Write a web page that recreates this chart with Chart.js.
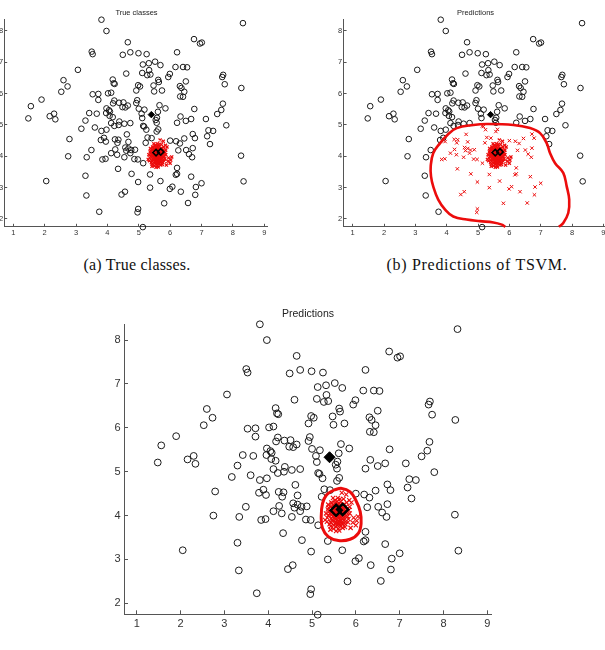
<!DOCTYPE html>
<html><head><meta charset="utf-8">
<script src="https://cdn.jsdelivr.net/npm/chart.js@4.4.0/dist/chart.umd.min.js"></script>
<style>
html,body{margin:0;padding:0;background:#fff;overflow:hidden;width:605px;height:650px;position:relative;}
canvas{position:absolute;}
.t{position:absolute;font-family:'Liberation Sans',Arial,sans-serif;color:#222;white-space:nowrap;transform:translate(-50%,-50%);}
.cap{position:absolute;font-family:'Liberation Serif','DejaVu Serif',serif;color:#111;white-space:nowrap;transform:translate(-50%,-50%);}
</style></head><body>
<canvas id="ca" width="300" height="245" style="left:-20px;top:0px"></canvas>
<canvas id="cb" width="310" height="245" style="left:310px;top:0px"></canvas>
<canvas id="cc" width="415" height="340" style="left:90px;top:300px"></canvas>
<div class="t" style="left:136.5px;top:11.7px;font-size:7.5px">True classes</div>
<div class="t" style="left:475.5px;top:11.7px;font-size:7.5px">Predictions</div>
<div class="t" style="left:308px;top:312.5px;font-size:10.5px">Predictions</div>
<div class="cap" style="left:137px;top:265px;font-size:16px;letter-spacing:0.2px">(a) True classes.</div>
<div class="cap" style="left:477px;top:265px;font-size:16px;letter-spacing:0.7px">(b) Predictions of TSVM.</div>
<script>
// ---------- data ----------
const X_MIN = 0.71, X_MAX = 9.10, Y_MIN = 1.75, Y_MAX = 8.36;
const xTickValues = [1,2,3,4,5,6,7,8,9];
const yTickValues = [2,3,4,5,6,7,8];

// unlabeled points (circles)
const unlabeledPts = [
[3.81,8.36],[8.32,8.25],[3.97,8.00],[4.65,7.64],[6.76,7.74],[6.95,7.60],[7.01,7.63],[3.50,7.34],[3.53,7.26],[4.73,7.32],
[4.49,7.24],[4.99,7.29],[5.25,7.26],[6.22,7.32],[3.06,6.76],[5.13,6.93],[5.32,6.97],[5.52,7.02],[5.69,6.91],[5.33,6.75],
[5.27,6.59],[5.37,6.61],[5.11,6.66],[4.60,6.64],[6.17,6.85],[6.41,6.85],[6.54,6.84],[5.99,6.63],[5.94,6.53],[7.69,6.60],
[7.66,6.53],[7.74,6.30],[2.60,6.43],[2.73,6.23],[2.53,6.06],[4.17,6.45],[4.20,6.33],[4.23,6.31],[4.98,6.27],[5.04,6.23],
[5.47,6.26],[5.62,6.44],[5.64,6.37],[6.31,6.24],[6.36,6.18],[6.50,6.39],[6.45,6.06],[6.32,5.91],[6.41,5.90],[8.27,6.18],
[5.49,6.07],[5.74,6.10],[4.92,6.10],[3.53,5.98],[3.71,5.99],[4.02,6.01],[4.12,6.03],[3.71,5.80],[1.90,5.81],[1.56,5.60],
[1.48,5.21],[2.16,5.28],[2.30,5.36],[2.34,5.18],[4.95,5.79],[4.92,5.70],[4.22,5.78],[4.18,5.69],[4.37,5.71],[4.51,5.72],
[4.48,5.57],[4.57,5.56],[4.65,5.62],[3.97,5.53],[4.05,5.47],[4.08,5.43],[3.96,5.38],[3.42,5.38],[3.66,5.36],[4.17,5.25],
[4.07,5.29],[3.30,5.14],[3.17,4.88],[3.60,4.92],[4.38,5.11],[4.36,5.00],[4.22,4.97],[4.54,5.04],[4.12,5.06],[4.73,5.06],
[5.00,5.52],[5.18,5.49],[5.09,5.36],[5.11,5.22],[5.14,4.97],[5.17,4.95],[5.24,4.85],[5.66,5.63],[5.85,5.53],[5.61,5.42],
[5.58,5.23],[5.54,5.16],[5.57,5.07],[5.62,4.86],[5.57,4.79],[3.81,4.81],[3.97,4.85],[3.89,4.59],[3.79,4.52],[3.95,4.47],
[2.79,4.55],[4.24,4.54],[4.35,4.53],[4.32,4.43],[4.62,4.70],[4.67,4.46],[4.57,4.28],[4.67,4.25],[4.76,4.20],[4.73,4.10],
[4.25,4.22],[4.12,4.10],[4.31,4.05],[4.54,3.97],[4.88,4.21],[4.86,3.91],[4.97,3.90],[3.49,4.20],[3.34,3.97],[2.75,4.00],
[3.84,3.90],[3.94,3.92],[4.34,3.60],[4.77,3.44],[3.30,3.38],[2.05,3.21],[3.33,2.75],[4.56,2.87],[4.45,2.78],[4.98,3.18],
[5.36,3.00],[5.69,3.21],[3.74,2.23],[4.98,2.32],[4.96,2.21],[5.13,1.74],[5.81,2.50],[6.57,2.51],[5.28,4.60],[5.22,4.43],
[5.41,4.58],[5.14,3.78],[5.36,3.42],[6.00,4.50],[6.19,4.48],[6.31,4.41],[6.26,4.19],[6.45,4.57],[6.51,4.20],[6.60,4.07],
[6.70,3.97],[6.72,4.26],[6.72,4.71],[6.79,4.58],[6.22,5.07],[6.33,5.27],[6.50,5.13],[6.67,5.19],[6.77,5.51],[7.14,5.19],
[7.22,4.83],[7.37,4.81],[7.18,4.64],[7.27,4.39],[7.50,5.35],[7.63,5.48],[7.68,5.68],[7.79,4.99],[8.26,4.02],[8.34,3.20],
[6.22,3.63],[6.22,3.44],[6.18,3.41],[6.67,3.35],[6.82,3.02],[7.00,3.14],[6.80,2.77],[6.34,2.87],[6.07,3.03],[5.99,2.96],
[4.60,4.18]
];

// labeled positive class (dense red cluster)
const positivePts = [
[5.58,4.05],[5.62,4.10],[5.55,4.00],[5.50,4.08],[5.65,3.98],[5.60,4.15],[5.52,3.95],[5.70,4.05],[5.45,4.02],[5.63,4.20],
[5.57,3.90],[5.68,4.12],[5.48,4.15],[5.53,4.22],[5.72,3.95],[5.40,4.10],[5.66,3.88],[5.59,3.85],[5.75,4.10],[5.44,3.92],
[5.61,4.02],[5.54,4.12],[5.67,4.06],[5.51,4.01],[5.64,3.93],[5.56,4.18],[5.49,3.88],[5.71,4.18],[5.43,4.20],[5.78,4.00],
[5.60,3.80],[5.52,3.82],[5.69,3.82],[5.38,4.00],[5.80,4.15],[5.46,4.28],[5.62,4.28],[5.74,4.26],[5.35,3.95],[5.57,4.32],
[5.83,3.92],[5.42,3.85],[5.66,3.76],[5.55,3.74],[5.47,4.05],[5.73,3.90],[5.58,3.96],[5.63,4.14],[5.50,4.19],[5.68,4.22],
[5.36,4.14],[5.77,4.20],[5.86,4.05],[5.40,3.80],[5.60,3.70],[5.52,4.35],[5.70,3.72],[5.32,4.05],[5.82,3.85],[5.64,4.38],
[5.95,3.95],[6.02,3.88],[6.00,3.78],[5.93,3.84],[6.05,3.98],[5.90,4.30],[5.68,4.52],[5.78,4.48],[5.48,4.40],[5.88,3.72],
[5.55,3.65],[5.42,3.68],[5.30,3.90],[5.85,4.35],[5.76,3.80],
[5.59,4.08],[5.53,4.05],[5.64,4.03],[5.57,4.13],[5.61,3.95],[5.47,3.98],[5.72,4.00],[5.66,4.16],[5.51,4.11],[5.55,3.92],
[5.62,3.87],[5.45,4.09],[5.69,3.92],[5.58,4.22],[5.49,4.24],[5.74,4.14],[5.41,4.05],[5.79,4.07],[5.54,3.84],[5.67,3.83],
[5.46,3.90],[5.60,4.25],[5.71,4.24],[5.38,4.18],[5.81,3.98],[5.50,3.78],[5.63,3.78],[5.76,3.86],[5.43,3.76],[5.57,3.79],
[5.65,4.32],[5.44,4.30],[5.79,4.30],[5.34,3.86],[5.86,4.20],[5.59,4.40],[5.72,4.38],[5.37,4.25],[5.49,3.70],[5.62,3.66],
[5.75,3.74],[5.84,4.12],[5.53,4.29],[5.68,4.00],[5.56,4.03]
];

// labeled negative (filled diamond) and positive labeled (open diamonds)
const negativeLabeled = [[5.40,5.33]];
const positiveLabeled = [[5.55,4.12],[5.70,4.14]];

// decision boundary of TSVM (panel b) and of the method in panel c
const boundaryB = [
[7.58,1.75],[7.72,1.87],[7.88,2.19],[7.91,2.62],[7.83,3.04],[7.72,3.47],[7.46,3.78],[7.30,4.10],[7.19,4.42],[6.98,4.74],
[6.66,4.90],[6.13,5.00],[5.28,5.03],[4.85,5.00],[4.32,4.90],[4.03,4.69],[3.79,4.42],[3.57,4.10],[3.49,3.68],[3.50,3.36],
[3.57,3.04],[3.73,2.62],[3.95,2.30],[4.21,2.08],[4.64,1.98],[5.06,1.93],[5.49,1.89],[5.76,1.82],[5.87,1.75]
];
const boundaryC = [
[5.49,4.58],[5.68,4.62],[5.87,4.54],[6.00,4.35],[6.10,4.09],[6.12,3.82],[6.06,3.60],[5.87,3.46],[5.60,3.43],[5.37,3.52],
[5.24,3.71],[5.21,3.97],[5.24,4.28],[5.33,4.47],[5.49,4.58]
];

// ---------- helpers ----------
const toXY = a => a.map(p => ({x:p[0], y:p[1]}));
function inside(poly, x, y){
  let c = false;
  for (let i = 0, j = poly.length - 1; i < poly.length; j = i++){
    const xi = poly[i][0], yi = poly[i][1], xj = poly[j][0], yj = poly[j][1];
    if (((yi > y) !== (yj > y)) && (x < (xj - xi) * (y - yi) / (yj - yi) + xi)) c = !c;
  }
  return c;
}
const RED = 'rgb(236,12,12)';

function scales(o){
  const mk = isX => ({
    type:'linear',
    min: isX ? X_MIN : Y_MIN, max: isX ? X_MAX : Y_MAX,
    afterBuildTicks: s => { s.ticks = (isX ? xTickValues : yTickValues).map(v => ({value:v})); },
    ticks:{autoSkip:false, maxRotation:0, color:'#333', font:{family:'Liberation Sans', size:o.fs}, padding: isX ? o.xpad : o.ypad},
    grid:{display:true, drawOnChartArea:false, drawTicks:true, tickLength:-o.tl, color:'#555', lineWidth:1},
    border:{display:true, color:'#555', width:1},
    afterFit: s => { if (isX) s.height = o.xh; else s.width = o.yw; }
  });
  return {x: mk(true), y: mk(false)};
}

function circles(pts, r){
  return {data: toXY(pts), pointStyle:'circle', pointRadius:r, pointHoverRadius:r, pointBorderColor:'#1a1a1a',
    pointBackgroundColor:'rgba(0,0,0,0)', pointBorderWidth:1, showLine:false, clip:false, order:4};
}
function crosses(pts, r, w){
  return {data: toXY(pts), pointStyle:'crossRot', pointRadius:r, pointHoverRadius:r, pointBorderColor:RED,
    pointBackgroundColor:RED, pointBorderWidth:w, showLine:false, clip:false, order:2};
}
function boundary(pts, w){
  return {data: toXY(pts), showLine:true, borderColor:RED, borderWidth:w, pointRadius:0, pointHoverRadius:0,
    tension:0.4, fill:false, clip:false, order:3};
}
function diamonds(pts, r, filled, bw){
  return {data: toXY(pts), pointStyle:'rectRot', pointRadius:r, pointHoverRadius:r, pointBorderColor:'#000',
    pointBackgroundColor: filled ? '#000' : 'rgba(0,0,0,0)', pointBorderWidth:bw, showLine:false, clip:false, order: filled ? 1 : 0};
}

function make(id, datasets, o){
  new Chart(document.getElementById(id), {
    type:'scatter',
    data:{datasets},
    options:{
      responsive:false, animation:false, devicePixelRatio:1,
      layout:{padding:{top:o.pt, right:o.pr, left:0, bottom:0}},
      plugins:{legend:{display:false}, tooltip:{enabled:false}, title:{display:false}},
      scales: scales(o)
    }
  });
}

// panel a: true classes
make('ca', [
  circles(unlabeledPts, 2.8),
  crosses(positivePts, 2.2, 1.2),
  diamonds(negativeLabeled, 3.2, true, 1),
  diamonds(positiveLabeled, 3.2, false, 1.6)
], {fs:7.5, xpad:5, ypad:4, tl:3, xh:18.2, yw:24.2, pt:19.7, pr:12.6});

// panel b: TSVM predictions
const outsideB = unlabeledPts.filter(p => !inside(boundaryB, p[0], p[1]));
const insideB = unlabeledPts.filter(p => inside(boundaryB, p[0], p[1]));
make('cb', [
  circles(outsideB, 2.8),
  crosses(insideB, 2.4, 1),
  crosses(positivePts, 2.2, 1.2),
  boundary(boundaryB, 2.6),
  diamonds(negativeLabeled, 3.2, true, 1),
  diamonds(positiveLabeled, 3.2, false, 1.6)
], {fs:7.5, xpad:5, ypad:4.5, tl:3, xh:18.2, yw:33.6, pt:19.7, pr:13.5});

// panel c: predictions
const outsideC = unlabeledPts.filter(p => !inside(boundaryC, p[0], p[1]));
const insideC = unlabeledPts.filter(p => inside(boundaryC, p[0], p[1]));
make('cc', [
  circles(outsideC, 3.4),
  crosses(insideC, 3, 1.1),
  crosses(positivePts, 3, 1.1),
  boundary(boundaryC, 3),
  diamonds(negativeLabeled, 5.5, true, 1),
  diamonds(positiveLabeled, 5.5, false, 2.5)
], {fs:11, xpad:7.4, ypad:7.3, tl:4, xh:25.7, yw:34, pt:24.3, pr:13.3});
</script>
</body></html>
